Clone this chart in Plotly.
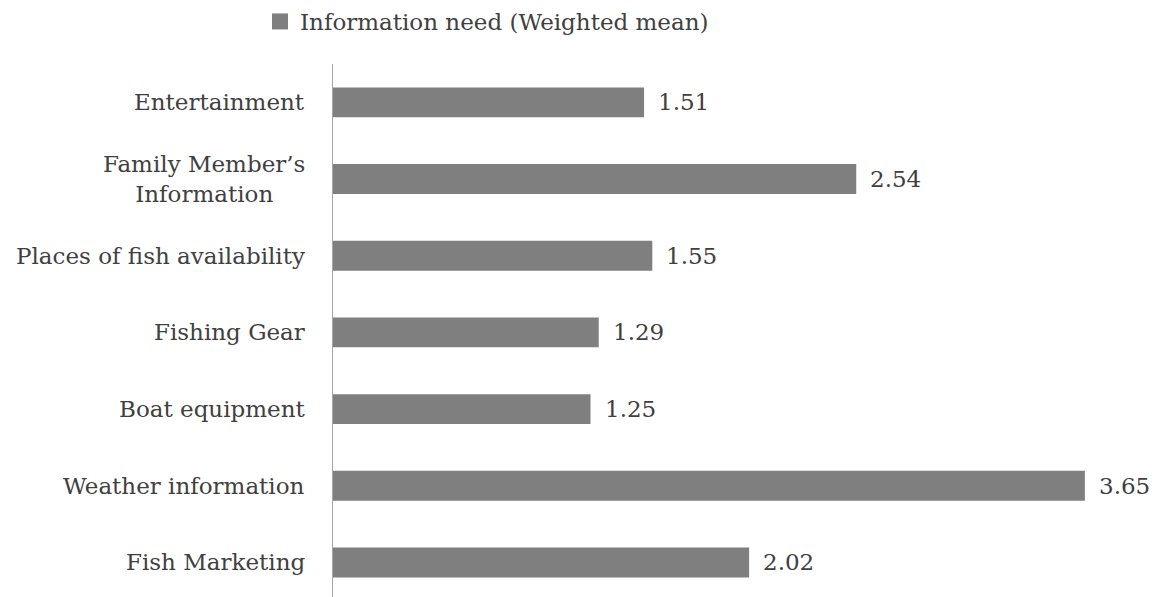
import plotly.graph_objects as go

categories = ["Fish Marketing", "Weather information", "Boat equipment", "Fishing Gear",
              "Places of fish availability", "Family Member’s<br>Information", "Entertainment"]
values = [2.02, 3.65, 1.25, 1.29, 1.55, 2.54, 1.51]
labels = ["2.02", "3.65", "1.25", "1.29", "1.55", "2.54", "1.51"]
series_name = "Information need (Weighted mean)"

FONT = "Palatino Linotype, Book Antiqua, Palatino, DejaVu Serif, serif"
TXT = "#404040"
BAR = "#7f7f7f"

fig = go.Figure()
fig.add_trace(go.Bar(
    x=values, y=list(range(len(categories))), orientation="h",
    marker=dict(color=BAR, line=dict(width=0)),
    name=series_name, showlegend=False,
))
# legend entry with a larger square swatch
fig.add_trace(go.Scatter(
    x=[None], y=[None], mode="markers", name=series_name,
    marker=dict(symbol="square", size=18, color=BAR, line=dict(width=0)),
    showlegend=True,
))

annotations = []
for i, (c, v, lab) in enumerate(zip(categories, values, labels)):
    annotations.append(dict(x=0, y=i, xref="x", yref="y", text=c, showarrow=False,
                            xanchor="right", yanchor="middle", xshift=-26, align="center",
                            font=dict(family=FONT, size=23, color=TXT)))
    annotations.append(dict(x=v, y=i, xref="x", yref="y", text=lab, showarrow=False,
                            xanchor="left", yanchor="middle", xshift=12,
                            font=dict(family=FONT, size=23, color=TXT)))

fig.update_layout(
    width=1157, height=597,
    margin=dict(l=333, r=0, t=64, b=0),
    paper_bgcolor="white", plot_bgcolor="white",
    bargap=0.61,
    font=dict(family=FONT, size=23, color=TXT),
    xaxis=dict(range=[0, 4], visible=False, showgrid=False, zeroline=False),
    yaxis=dict(range=[-0.45, 6.5], showticklabels=False, showgrid=False, zeroline=False,
               showline=True, linecolor="#a6a6a6", linewidth=1, ticks=""),
    legend=dict(orientation="h", xref="container", yref="container", x=260/1157, y=1,
                xanchor="left", yanchor="top", font=dict(family=FONT, size=23, color=TXT),
                bgcolor="rgba(0,0,0,0)"),
    annotations=annotations,
)

fig.write_html("out.html")
